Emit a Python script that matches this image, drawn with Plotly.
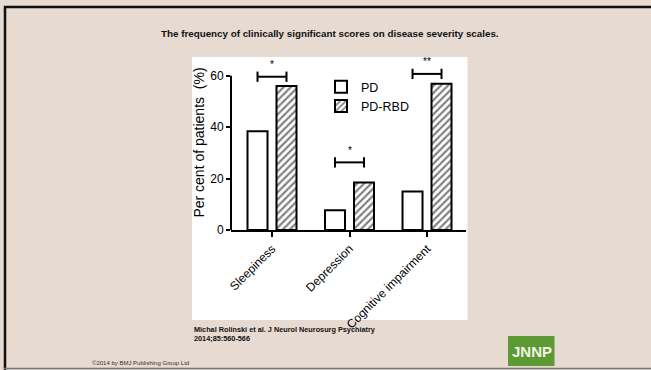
import plotly.graph_objects as go

# Data
categories = ["Sleepiness", "Depression", "Cognitive impairment"]
pd_values = [38.4, 7.7, 15.0]
pd_rbd_values = [56.0, 18.5, 56.9]
series_names = ["PD", "PD-RBD"]
sig_labels = ["*", "*", "**"]
sig_levels = [59.6, 26.3, 60.7]
y_ticks = [0, 20, 40, 60]

W, H = 651, 370
ML, MR, MT, MB = 231, 185, 55, 140
PW, PH = W - ML - MR, H - MT - MB
BG = "#e6dad1"
FONT = "Liberation Sans, Arial, sans-serif"
BARGAP = 0.252
HALF = (1 - BARGAP) / 4  # offset of each bar centre from its category


def px_x(p):
    return (p - ML) / PW


def px_y(p):
    return (H - MB - p) / PH


fig = go.Figure()
fig.add_trace(go.Bar(
    x=categories, y=pd_values, name=series_names[0],
    marker=dict(color="white", line=dict(color="black", width=2)),
))
fig.add_trace(go.Bar(
    x=categories, y=pd_rbd_values, name=series_names[1],
    marker=dict(color="white", line=dict(color="black", width=2),
                pattern=dict(shape="/", fgcolor="black", bgcolor="white",
                             size=5, solidity=0.42)),
))

shapes = []
# slide frame and the white figure panel
shapes.append(dict(type="rect", xref="paper", yref="paper", layer="below",
                   x0=px_x(192), x1=px_x(467.5), y0=px_y(320), y1=px_y(57),
                   fillcolor="white", line=dict(width=0)))
shapes.append(dict(type="line", xref="paper", yref="paper",
                   x0=px_x(4), x1=px_x(W), y0=px_y(7), y1=px_y(7),
                   line=dict(color="#111", width=2.5)))
shapes.append(dict(type="line", xref="paper", yref="paper",
                   x0=px_x(5), x1=px_x(5), y0=px_y(6), y1=px_y(H),
                   line=dict(color="#111", width=2.5)))
shapes.append(dict(type="line", xref="paper", yref="paper",
                   x0=px_x(4), x1=px_x(W), y0=px_y(368.5), y1=px_y(368.5),
                   line=dict(color="#777", width=1.5)))
# y axis line only up to the top tick
shapes.append(dict(type="line", xref="x domain", yref="y",
                   x0=0, x1=0, y0=0, y1=max(y_ticks),
                   line=dict(color="black", width=2)))

annotations = []
# significance brackets
for i, (lab, lvl) in enumerate(zip(sig_labels, sig_levels)):
    xa, xb = i - HALF, i + HALF
    shapes.append(dict(type="line", xref="x", yref="y", x0=xa, x1=xb,
                       y0=lvl, y1=lvl, line=dict(color="black", width=2)))
    for xe in (xa, xb):
        shapes.append(dict(type="line", xref="x", yref="y", x0=xe, x1=xe,
                           y0=lvl - 2, y1=lvl + 2,
                           line=dict(color="black", width=2)))
    annotations.append(dict(x=i, y=lvl + 4.7, xref="x", yref="y", text=lab,
                            showarrow=False, yanchor="middle",
                            font=dict(size=10, color="#000000", family=FONT)))

# logo box
shapes.append(dict(type="rect", xref="paper", yref="paper",
                   x0=px_x(508), x1=px_x(554.5), y0=px_y(366), y1=px_y(336),
                   fillcolor="#5e9a33", line=dict(width=0)))

annotations += [
    dict(x=px_x(330), y=px_y(34), xref="paper", yref="paper",
         text="<b>The frequency of clinically significant scores on disease severity scales.</b>",
         showarrow=False, xanchor="center", yanchor="middle",
         font=dict(size=9.8, color="#111", family=FONT)),
    dict(x=px_x(192), y=px_y(334), xref="paper", yref="paper",
         text="<b>Michal Rolinski et al. J Neurol Neurosurg Psychiatry<br>2014;85:560-566</b>",
         showarrow=False, xanchor="left", yanchor="middle", align="left",
         font=dict(size=7.3, color="#111", family=FONT)),
    dict(x=px_x(90), y=px_y(362.5), xref="paper", yref="paper",
         text="©2014 by BMJ Publishing Group Ltd",
         showarrow=False, xanchor="left", yanchor="middle",
         font=dict(size=6, color="#333", family=FONT)),
    dict(x=px_x(531.5), y=px_y(351.5), xref="paper", yref="paper",
         text="<b>JNNP</b>", showarrow=False, xanchor="center", yanchor="middle",
         font=dict(size=15, color="#eef4e6", family=FONT)),
]

fig.update_layout(
    width=W, height=H,
    margin=dict(l=ML, r=MR, t=MT, b=MB, pad=0),
    paper_bgcolor=BG, plot_bgcolor="rgba(0,0,0,0)",
    barmode="group", bargap=BARGAP, bargroupgap=0.31,
    font=dict(family=FONT, color="black", size=12),
    showlegend=True,
    legend=dict(x=px_x(321), y=px_y(72), xanchor="left", yanchor="top",
                bgcolor="rgba(0,0,0,0)", itemwidth=30,
                font=dict(size=12.5, color="black", family=FONT)),
    shapes=shapes, annotations=annotations,
)
fig.update_xaxes(range=[-0.529, 2.503], showline=True, linecolor="black",
                 linewidth=2, ticks="outside", ticklen=5, tickwidth=2,
                 tickcolor="black", tickangle=-45, showgrid=False,
                 tickfont=dict(size=12, color="black", family=FONT))
fig.update_yaxes(range=[0, 68.05], showline=False, ticks="outside",
                 ticklen=4, tickwidth=2, tickcolor="black", tickvals=y_ticks,
                 showgrid=False, zeroline=False,
                 tickfont=dict(size=12, color="black", family=FONT),
                 title=dict(text="Per cent of patients  (%)", standoff=2,
                            font=dict(size=14, color="black", family=FONT)))

fig.write_html("out.html")
